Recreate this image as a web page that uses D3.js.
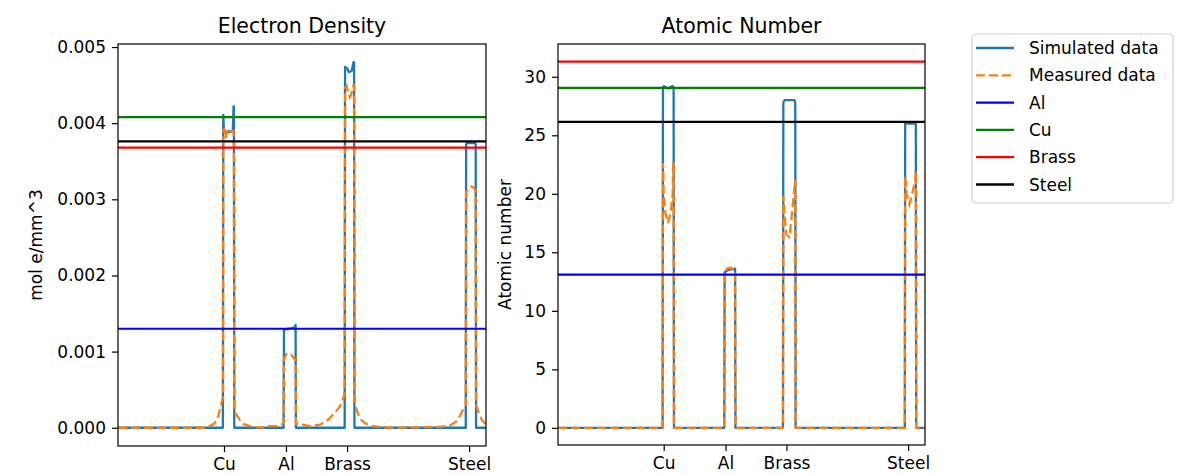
<!DOCTYPE html>
<html>
<head>
<meta charset="utf-8">
<script src="https://cdn.jsdelivr.net/npm/d3@7"></script>
<style>
  body { margin: 0; background: #fff; }
  svg { font-family: "DejaVu Sans", sans-serif; }
  .tick text { font-size: 17px; fill: #000; }
  .tick line { stroke: #000; stroke-width: 1.2; }
</style>
</head>
<body>
<div class="chart"></div>
<script>
// profile position (sample index 0..200) and tick labels
var xTickPos = [57.6, 91.3, 124.5, 190.8];
var xTickLabels = ["Cu", "Al", "Brass", "Steel"];

var materials = ["Al", "Cu", "Brass", "Steel"];
var densityRef = [0.0013, 0.00408, 0.00368, 0.00376];
var atomicRef = [13.1, 29.05, 31.3, 26.15];

// electron density, simulated
var densitySim = [[0,0],[57,0],[57.2,0.00411],[57.6,0.0039],[60,0.00388],[62.4,0.0039],[62.8,0.00422],[63,0.00422],[63.2,0],
  [90,0],[90.2,0.00129],[93,0.0013],[96.3,0.00132],[96.5,0.00135],[96.7,0],
  [123.2,0],[123.4,0.00474],[124.5,0.00472],[125.5,0.00467],[127,0.00469],[128,0.0048],[128.3,0.0048],[128.5,0],
  [189,0],[189.2,0.00372],[189.6,0.00374],[194.2,0.00374],[194.4,0.00372],[194.6,0],[200,0]];

// electron density, measured
var densityMeas = [[0,0],[47.3,0],[51.6,0.00004],[53.8,0.0001],[55.4,0.00024],[56.5,0.00035],[57.1,0.0004],
  [57.2,0.0039],[57.8,0.00392],[58.5,0.0038],[59.3,0.00388],[60,0.0039],[61,0.00386],[62,0.0039],[62.8,0.0039],[63,0.0038],
  [63.2,0.00028],[64.1,0.00018],[66.3,0.0001],[68,0.00005],[71.7,0.00002],[78,0],[82,0.00002],
  [85.9,0.00002],[88.6,0.00004],[90,0.00006],[90.2,0.0009],[91.5,0.00097],[93,0.00098],[94.5,0.00095],[96,0.0009],[96.6,0.0009],
  [96.7,0.00005],[100.5,0.00004],[104,0.00002],[109.8,0.00004],[114,0.0001],[118,0.0002],[120.6,0.00028],[122.3,0.00038],[123.2,0.00045],
  [123.4,0.00446],[124.2,0.00449],[125,0.0044],[126,0.00434],[127,0.0044],[128,0.0045],[128.3,0.0045],
  [128.5,0.00035],[129.9,0.00022],[131.5,0.00012],[134.2,0.00006],[138,0.00002],[148,0],
  [175,0.00001],[180.4,0.00003],[183.7,0.00008],[185.9,0.00016],[188,0.00026],[189,0.0003],
  [189.2,0.0031],[190.5,0.00314],[192,0.00317],[193.5,0.00315],[194.4,0.00311],
  [194.6,0.0003],[195.7,0.00022],[197.8,0.0001],[200,0.00004]];

// atomic number, simulated
var atomicSim = [[0,0],[57,0],[57.2,29.1],[57.8,29.2],[60,29],[62.4,29.2],[63,29.1],[63.2,0],
  [90.6,0],[90.8,13.3],[93,13.5],[96.5,13.6],[96.7,0],
  [122.6,0],[122.8,27.8],[123.5,28],[128.8,28],[129.3,27.8],[129.5,0],
  [189,0],[189.2,26],[195,26],[195.2,0],[200,0]];

// atomic number, measured
var atomicMeas = [[0,0],[57,0],[57.2,22.6],[57.6,20],[58.5,18.4],[60,17.5],[61.5,18.5],[62.5,20],[62.8,22.6],[63,22.6],[63.2,0],
  [90.6,0],[90.8,13],[92,13.6],[94,13.7],[96,13.5],[96.5,13.2],[96.7,0],
  [122.6,0],[122.8,19.8],[123.5,18],[124.5,16.5],[126,16.3],[127,17.5],[128.5,20],[129.3,21.2],[129.5,0],
  [189,0],[189.2,21.5],[190,20],[191.5,19.1],[193,20],[194.5,21],[195,21.9],[195.2,0],[200,0]];

var refColors = ["#0000ff", "#008000", "#ff0000", "#000000"];

var svgWidth = 1182, svgHeight = 475;
var svg = d3.select(".chart").append("svg")
  .attr("width", svgWidth)
  .attr("height", svgHeight);

function drawPanel(opt) {
  var x = d3.scaleLinear().domain([0, 200]).range([opt.left, opt.right]);
  var y = d3.scaleLinear().domain(opt.yDomain).range([opt.bottom, opt.top]);
  var g = svg.append("g");

  var line = d3.line()
    .x(function(d) { return x(d[0]); })
    .y(function(d) { return y(d[1]); });

  var clipId = "clip" + opt.left;
  svg.append("clipPath").attr("id", clipId).append("rect")
    .attr("x", opt.left).attr("y", opt.top)
    .attr("width", opt.right - opt.left).attr("height", opt.bottom - opt.top);

  var plot = g.append("g").attr("clip-path", "url(#" + clipId + ")");

  plot.append("path").datum(opt.sim)
    .attr("d", line)
    .attr("fill", "none")
    .attr("stroke", "#1f77b4")
    .attr("stroke-width", 2.3)
    .attr("stroke-linejoin", "round");

  plot.append("path").datum(opt.meas)
    .attr("d", line)
    .attr("fill", "none")
    .attr("stroke", "#ff7f0e")
    .attr("stroke-width", 2.3)
    .attr("stroke-dasharray", "9,4");

  opt.refs.forEach(function(v, i) {
    plot.append("line")
      .attr("x1", opt.left).attr("x2", opt.right)
      .attr("y1", y(v)).attr("y2", y(v))
      .attr("stroke", refColors[i])
      .attr("stroke-width", 2.2);
  });

  var xAxis = d3.axisBottom(x).tickValues(xTickPos)
    .tickFormat(function(d, i) { return xTickLabels[i]; })
    .tickSize(6).tickPadding(6);
  g.append("g").attr("transform", "translate(0," + opt.bottom + ")")
    .call(xAxis).call(function(a) { a.select(".domain").remove(); });

  var yAxis = d3.axisLeft(y).tickValues(opt.yTicks)
    .tickFormat(opt.yFormat).tickSize(6).tickPadding(6);
  g.append("g").attr("transform", "translate(" + opt.left + ",0)")
    .call(yAxis).call(function(a) { a.select(".domain").remove(); });

  g.selectAll(".tick text").attr("font-family", "DejaVu Sans");

  g.append("rect")
    .attr("x", opt.left).attr("y", opt.top)
    .attr("width", opt.right - opt.left).attr("height", opt.bottom - opt.top)
    .attr("fill", "none").attr("stroke", "#000").attr("stroke-width", 1.2);

  g.append("text")
    .attr("x", (opt.left + opt.right) / 2).attr("y", 33)
    .attr("text-anchor", "middle")
    .attr("font-size", 20.5)
    .text(opt.title);

  g.append("text")
    .attr("transform", "translate(" + opt.ylabelX + "," + ((opt.top + opt.bottom) / 2) + ") rotate(-90)")
    .attr("text-anchor", "middle")
    .attr("font-size", 17)
    .text(opt.ylabel);
}

drawPanel({
  left: 118, right: 486, top: 44, bottom: 446,
  yDomain: [-0.00024, 0.00504],
  yTicks: [0, 0.001, 0.002, 0.003, 0.004, 0.005],
  yFormat: d3.format(".3f"),
  sim: densitySim, meas: densityMeas, refs: densityRef,
  title: "Electron Density", ylabel: "mol e/mm^3", ylabelX: 42
});

drawPanel({
  left: 558, right: 925, top: 44, bottom: 445,
  yDomain: [-1.465, 32.8],
  yTicks: [0, 5, 10, 15, 20, 25, 30],
  yFormat: d3.format("d"),
  sim: atomicSim, meas: atomicMeas, refs: atomicRef,
  title: "Atomic Number", ylabel: "Atomic number", ylabelX: 511
});

// legend
var legendItems = [
  { label: "Simulated data", color: "#1f77b4", dash: null },
  { label: "Measured data", color: "#ff7f0e", dash: "9,4" }
].concat(materials.map(function(m, i) {
  return { label: m, color: refColors[i], dash: null };
}));

var legend = svg.append("g");
legend.append("rect")
  .attr("x", 972).attr("y", 34).attr("width", 201).attr("height", 169)
  .attr("rx", 4)
  .attr("fill", "#fff").attr("stroke", "#d0d0d0").attr("stroke-width", 1.2);

var rows = legend.selectAll("g.row").data(legendItems).enter()
  .append("g").attr("class", "row")
  .attr("transform", function(d, i) { return "translate(0," + (48 + i * 27.3) + ")"; });

rows.append("line")
  .attr("x1", 976).attr("x2", 1014)
  .attr("stroke", function(d) { return d.color; })
  .attr("stroke-width", 2.3)
  .attr("stroke-dasharray", function(d) { return d.dash; });

rows.append("text")
  .attr("x", 1029).attr("y", 6)
  .attr("font-size", 17)
  .text(function(d) { return d.label; });
</script>
</body>
</html>
